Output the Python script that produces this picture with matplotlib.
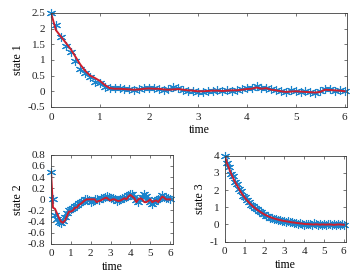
import matplotlib
matplotlib.use("Agg")
import matplotlib.pyplot as plt

plt.rcParams['font.family'] = ['Liberation Serif', 'DejaVu Serif']

# time grid
t = [0.0, 0.1, 0.2, 0.3, 0.4, 0.5, 0.6, 0.7, 0.8, 0.9,
     1.0, 1.1, 1.2, 1.3, 1.4, 1.5, 1.6, 1.7, 1.8, 1.9,
     2.0, 2.1, 2.2, 2.3, 2.4, 2.5, 2.6, 2.7, 2.8, 2.9,
     3.0, 3.1, 3.2, 3.3, 3.4, 3.5, 3.6, 3.7, 3.8, 3.9,
     4.0, 4.1, 4.2, 4.3, 4.4, 4.5, 4.6, 4.7, 4.8, 4.9,
     5.0, 5.1, 5.2, 5.3, 5.4, 5.5, 5.6, 5.7, 5.8, 5.9, 6.0]

# state 1: measured (markers) and estimated (line)
x1_meas = [2.5, 2.1, 1.72, 1.45, 1.25, 0.95, 0.7, 0.58, 0.45, 0.3,
           0.25, 0.15, 0.1, 0.12, 0.1, 0.06, 0.08, 0.04, 0.07, 0.1,
           0.1, 0.12, 0.08, 0.05, 0.08, 0.15, 0.1, 0.04, 0.02, 0.0,
           -0.03, -0.01, 0.02, 0.0, 0.03, 0.0, 0.04, 0.01, 0.05, 0.07,
           0.1, 0.12, 0.16, 0.12, 0.1, 0.06, 0.04, 0.01, -0.02, 0.03,
           0.0, -0.02, 0.0, -0.03, -0.05, 0.0, 0.08, 0.06, 0.02, 0.04, 0.0]
x1_est = [2.5, 1.95, 1.75, 1.55, 1.35, 1.1, 0.85, 0.65, 0.5, 0.42,
          0.33, 0.2, 0.1, 0.08, 0.08, 0.07, 0.06, 0.05, 0.06, 0.08,
          0.09, 0.08, 0.08, 0.06, 0.05, 0.06, 0.07, 0.05, 0.03, 0.02,
          0.0, 0.0, 0.01, 0.02, 0.02, 0.01, 0.02, 0.03, 0.03, 0.05,
          0.07, 0.08, 0.12, 0.08, 0.1, 0.05, 0.03, 0.0, -0.02, -0.01,
          0.0, -0.01, -0.02, -0.03, -0.04, -0.02, 0.05, 0.04, 0.03, 0.02, 0.0]

# state 2
x2_meas = [0.5, 0.0, -0.28, -0.35, -0.4, -0.42, -0.38, -0.32, -0.25, -0.2,
           -0.18, -0.15, -0.12, -0.1, -0.06, -0.05, -0.03, 0.0, 0.0, -0.02,
           -0.05, -0.03, 0.0, 0.0, -0.02, 0.02, 0.03, 0.05, 0.06, 0.04,
           0.02, 0.03, 0.0, -0.03, -0.02, 0.0, 0.02, 0.03, 0.05, 0.07,
           0.1, 0.1, 0.05, -0.02, -0.05, 0.0, 0.05, 0.1, 0.06, 0.0,
           -0.05, -0.08, -0.04, -0.02, 0.0, 0.03, 0.08, 0.05, 0.02, 0.02, 0.0]
x2_est = [0.5, -0.15, -0.17, -0.25, -0.33, -0.4, -0.42, -0.38, -0.3, -0.22,
          -0.22, -0.2, -0.15, -0.15, -0.1, -0.08, -0.05, -0.02, 0.0, 0.0,
          0.0, 0.0, 0.0, -0.05, -0.03, -0.02, 0.0, 0.02, 0.03, 0.0,
          -0.02, 0.0, 0.0, -0.02, -0.03, -0.02, 0.0, 0.02, 0.0, 0.05,
          0.08, 0.05, 0.02, -0.05, 0.0, 0.02, 0.0, -0.05, -0.05, -0.03,
          0.0, -0.05, -0.03, -0.02, -0.05, 0.0, 0.05, 0.03, 0.0, 0.0, 0.0]

# state 3
x3_meas = [4.0, 3.55, 3.35, 2.95, 2.8, 2.45, 2.35, 2.05, 1.95, 1.68,
           1.6, 1.4, 1.33, 1.15, 1.1, 0.95, 0.9, 0.78, 0.74, 0.62,
           0.6, 0.5, 0.49, 0.4, 0.4, 0.32, 0.33, 0.26, 0.27, 0.2,
           0.22, 0.15, 0.18, 0.12, 0.14, 0.08, 0.1, 0.05, 0.07, 0.02,
           -0.02, 0.03, 0.0, 0.05, -0.03, 0.06, 0.02, -0.02, 0.04, -0.03,
           0.02, -0.04, 0.03, 0.0, -0.05, 0.02, -0.02, 0.03, -0.04, 0.02, -0.03]
x3_est = [4.0, 3.6, 3.3, 3.0, 2.75, 2.5, 2.3, 2.1, 1.9, 1.72,
          1.57, 1.43, 1.3, 1.18, 1.07, 0.97, 0.88, 0.8, 0.72, 0.65,
          0.58, 0.52, 0.47, 0.42, 0.38, 0.34, 0.31, 0.28, 0.25, 0.22,
          0.2, 0.18, 0.16, 0.14, 0.12, 0.11, 0.09, 0.08, 0.06, 0.05,
          0.03, 0.02, 0.02, 0.01, 0.0, 0.0, 0.01, 0.0, -0.01, 0.0,
          0.0, -0.01, 0.0, 0.0, -0.01, -0.02, -0.01, 0.0, 0.0, -0.01, -0.02]

blue = '#1A84CC'
red = '#CC1F2E'
star = (6, 2, 0)
dark = '#404040'

fig = plt.figure(figsize=(3.58, 2.8), dpi=100)


def draw(ax, meas, est, label, xlim, ylim, yticks, yticklabels):
    ax.plot(t, meas, linestyle='none', marker=star, color=blue,
            markersize=6.5, markeredgewidth=0.8, clip_on=False)
    ax.plot(t, est, color=red, linewidth=1.4)
    ax.set_xlim(*xlim)
    ax.set_ylim(*ylim)
    ax.set_xticks([0, 1, 2, 3, 4, 5, 6])
    ax.set_yticks(yticks)
    ax.set_yticklabels(yticklabels)
    ax.tick_params(direction='in', top=True, right=True, labelsize=8,
                   length=2.5, width=0.5, colors=dark, labelcolor='#222222',
                   pad=4)
    for s in ax.spines.values():
        s.set_linewidth(0.6)
        s.set_color(dark)
    ax.set_xlabel('time', fontsize=8.5, labelpad=2)
    ax.set_ylabel(label, fontsize=8.5, labelpad=3)


ax1 = fig.add_axes([0.1425, 0.618, 0.827, 0.336])
draw(ax1, x1_meas, x1_est, 'state 1', (0, 6.05), (-0.5, 2.5),
     [-0.5, 0, 0.5, 1, 1.5, 2, 2.5],
     ['-0.5', '0', '0.5', '1', '1.5', '2', '2.5'])

ax2 = fig.add_axes([0.1425, 0.129, 0.341, 0.318])
draw(ax2, x2_meas, x2_est, 'state 2', (0, 6.15), (-0.8, 0.8),
     [-0.8, -0.6, -0.4, -0.2, 0, 0.2, 0.4, 0.6, 0.8],
     ['-0.8', '-0.6', '-0.4', '-0.2', '0', '0.2', '0.4', '0.6', '0.8'])

ax3 = fig.add_axes([0.628, 0.137, 0.339, 0.307])
draw(ax3, x3_meas, x3_est, 'state 3', (0, 6.12), (-1, 4),
     [-1, 0, 1, 2, 3, 4], ['-1', '0', '1', '2', '3', '4'])

fig.savefig('out.png', dpi=100)
